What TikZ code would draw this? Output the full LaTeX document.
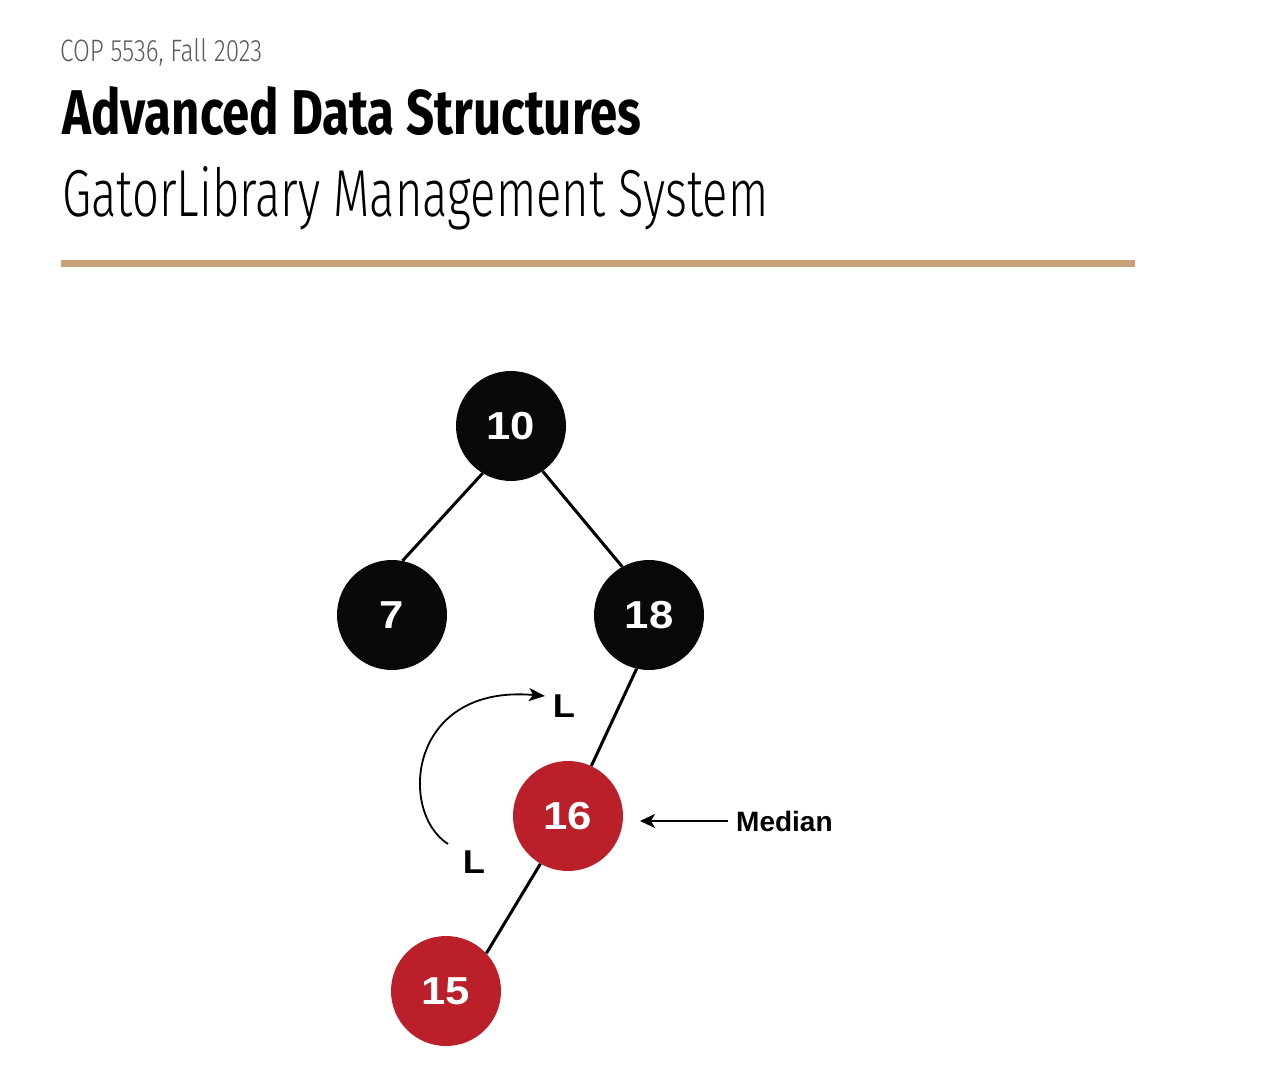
\documentclass[tikz,border=0pt]{standalone}
\usepackage{fontspec}
\usepackage{graphicx}
\setmainfont{Liberation Sans}
\newfontfamily\condfont{Fira Sans}
\newfontfamily\condlight{Fira Sans}[UprightFont={* Light}]
\usetikzlibrary{arrows.meta}
\definecolor{nodeblack}{HTML}{060809}
\definecolor{nodered}{HTML}{BB1F2A}
\definecolor{rulegold}{HTML}{C9A178}
\definecolor{coursegray}{HTML}{5A5A5A}
\newcommand{\widedigits}[1]{\raisebox{-1pt}{\scalebox{1.12}[1]{#1}}}
\tikzset{
  treenode/.style={circle, minimum size=110pt, inner sep=0pt, text=white, font=\fontsize{39}{42}\selectfont\bfseries},
  blacknode/.style={treenode, fill=nodeblack},
  rednode/.style={treenode, fill=nodered},
  edge/.style={line width=3pt, draw=black},
  rotarrow/.style={line width=1.8pt, -{Stealth[length=16pt,width=13pt,inset=4pt]}},
  medarrow/.style={line width=1.8pt, -{Stealth[length=15pt,width=14pt,inset=4pt]}},
  lab/.style={inner sep=0pt, font=\fontsize{33}{36}\selectfont\bfseries},
  hdr/.style={inner sep=0pt, anchor=base west}
}
\begin{document}
\begin{tikzpicture}[x=1pt,y=1pt]
\useasboundingbox (0,0) rectangle (1261,-1083);
% header
\node[hdr, text=coursegray] (course) at (60,-62) {\resizebox{202pt}{23pt}{\condlight COP 5536, Fall 2023}};
\node[hdr] (title) at (62,-135) {\resizebox{579pt}{48pt}{\condfont\bfseries Advanced Data Structures}};
\node[hdr] (subtitle) at (62,-217) {\resizebox{706pt}{50pt}{\condlight GatorLibrary Management System}};
\fill[rulegold] (61,-260) rectangle (1135,-267);
% tree
\node[blacknode] (n10) at (511,-426) {\widedigits{10}};
\node[blacknode] (n7) at (392,-615) {\widedigits{7}};
\node[blacknode] (n18) at (649,-615) {\widedigits{18}};
\node[rednode] (n16) at (568,-816) {\widedigits{16}};
\node[rednode] (n15) at (446,-991) {\widedigits{15}};
\draw[edge] (n10.-121) -- (n7.79);
\draw[edge] (n10.-55) -- (n18.119);
\draw[edge] (n18.-103) -- (n16.65);
\draw[edge] (n16.-120) -- (n15.43);
% rotation arrow
\coordinate (rotstart) at (448,-844);
\coordinate (rotend) at (545,-696);
\draw[rotarrow] (rotstart) .. controls (398,-812) and (408,-684) .. (rotend);
\node[lab] (ltop) at (564,-706) {\scalebox{1.1}[1]{L}};
\node[lab] (lbot) at (474,-862) {\scalebox{1.1}[1]{L}};
% median
\node[inner sep=0pt, anchor=west, font=\fontsize{28}{30}\selectfont\bfseries] (median) at (736,-821) {Median};
\coordinate (medtip) at (640,-821);
\draw[medarrow] ([xshift=-8pt]median.west) -- (medtip);
\end{tikzpicture}
\end{document}
